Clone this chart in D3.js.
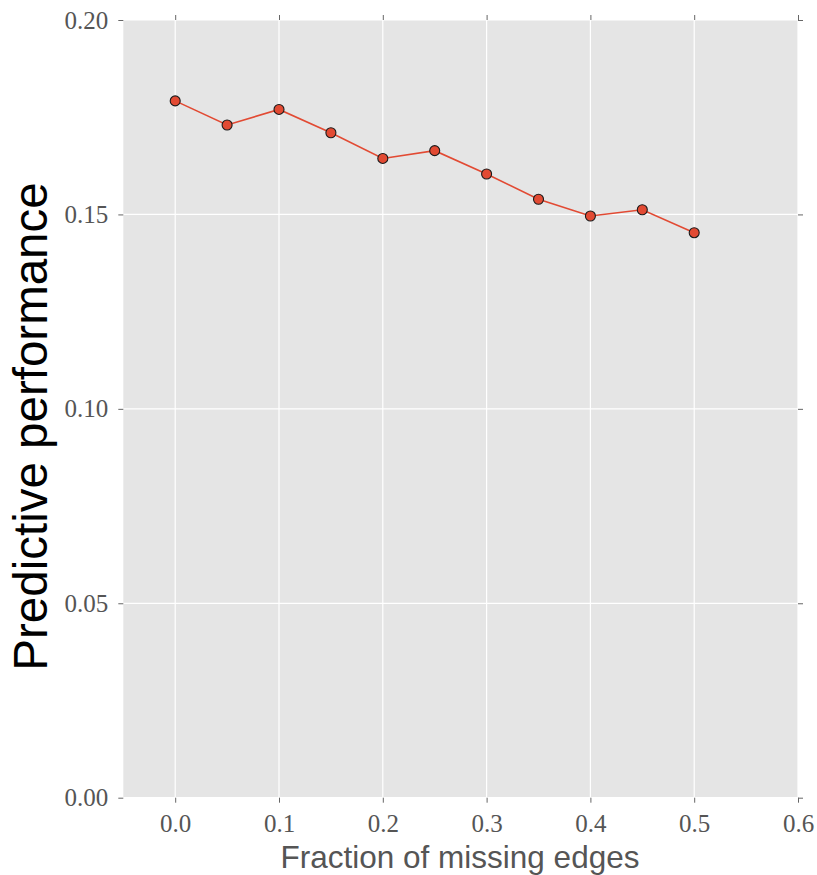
<!DOCTYPE html>
<html><head><meta charset="utf-8">
<script src="https://cdn.jsdelivr.net/npm/d3@7"></script>
<style>body{margin:0;background:#fff;}</style>
</head><body>
<svg id="c" width="817" height="875"></svg>
<script>
const fractions = [0.0, 0.05, 0.1, 0.15, 0.2, 0.25, 0.3, 0.35, 0.4, 0.45, 0.5];
const performance = [0.1792, 0.1730, 0.1770, 0.1710, 0.1644, 0.1664, 0.1604, 0.1539, 0.1496, 0.1512, 0.1453];
const xTicks = [0.0, 0.1, 0.2, 0.3, 0.4, 0.5, 0.6];
const yTicks = [0.00, 0.05, 0.10, 0.15, 0.20];
const xLabel = "Fraction of missing edges";
const yLabel = "Predictive performance";

const svg = d3.select("#c");
const L = 123.3, R = 798, T = 20, B = 797.7;
const x = d3.scaleLinear().domain([-0.05, 0.6]).range([L, R]);
const y = d3.scaleLinear().domain([0, 0.2]).range([B, T]);

svg.append("rect").attr("x", L).attr("y", T).attr("width", R - L).attr("height", B - T).attr("fill", "#E5E5E5");

const g = svg.append("g");
g.selectAll(".gx").data(xTicks).join("line")
  .attr("x1", d => x(d)).attr("x2", d => x(d)).attr("y1", T).attr("y2", B)
  .attr("stroke", "#fff").attr("stroke-width", 1.2);
g.selectAll(".gy").data(yTicks).join("line")
  .attr("y1", d => y(d)).attr("y2", d => y(d)).attr("x1", L).attr("x2", R)
  .attr("stroke", "#fff").attr("stroke-width", 1.2);

function styleAxis(sel) {
  sel.select(".domain").remove();
  sel.selectAll(".tick line").attr("stroke", "#666").attr("stroke-width", 1);
  sel.selectAll(".tick text").attr("fill", "#555").attr("font-family", "'Liberation Serif', 'DejaVu Serif', serif").attr("font-size", 25);
}
svg.append("g").attr("transform", `translate(0,${B})`)
  .call(d3.axisBottom(x).tickValues(xTicks).tickFormat(d3.format(".1f")).tickSizeInner(5).tickPadding(12))
  .call(styleAxis);
svg.append("g").attr("transform", `translate(0,${T})`)
  .call(d3.axisTop(x).tickValues(xTicks).tickFormat("").tickSizeInner(5))
  .call(styleAxis);
svg.append("g").attr("transform", `translate(${L},0)`)
  .call(d3.axisLeft(y).tickValues(yTicks).tickFormat(d3.format(".2f")).tickSizeInner(5).tickPadding(10))
  .call(styleAxis);
svg.append("g").attr("transform", `translate(${R},0)`)
  .call(d3.axisRight(y).tickValues(yTicks).tickFormat("").tickSizeInner(5))
  .call(styleAxis);

const data = fractions.map((f, i) => ({f, v: performance[i]}));
svg.append("path").datum(data)
  .attr("d", d3.line().x(d => x(d.f)).y(d => y(d.v)))
  .attr("fill", "none").attr("stroke", "#E24A33").attr("stroke-width", 1.6);
svg.selectAll(".pt").data(data).join("circle")
  .attr("cx", d => x(d.f)).attr("cy", d => y(d.v)).attr("r", 5)
  .attr("fill", "#E24A33").attr("stroke", "#1a1a1a").attr("stroke-width", 1.1);

svg.append("text").attr("x", 460).attr("y", 868)
  .attr("text-anchor", "middle").attr("font-family", "'Liberation Sans', Arial, sans-serif")
  .attr("font-size", 31.5).attr("fill", "#555").text(xLabel);
svg.append("text").attr("transform", `translate(47,426.5) rotate(-90)`)
  .attr("text-anchor", "middle").attr("font-family", "'Liberation Sans', Arial, sans-serif")
  .attr("font-size", 47.5).attr("fill", "#000").text(yLabel);
</script>
</body></html>
